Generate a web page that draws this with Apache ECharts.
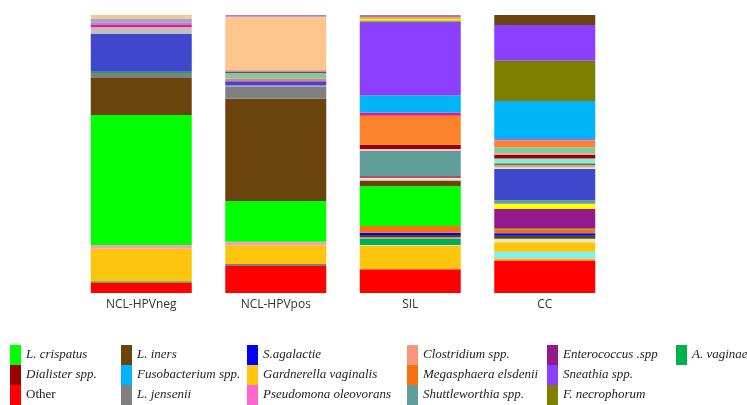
<!DOCTYPE html>
<html>
<head>
<meta charset="utf-8">
<script src="https://cdn.jsdelivr.net/npm/echarts@6/dist/echarts.min.js"></script>
<style>
html,body{margin:0;padding:0;background:#fff;}
#chart{width:747px;height:405px;}
</style>
</head>
<body>
<div id="chart"></div>
<script>
// ---- DATA ----
const categories = ['NCL-HPVneg', 'NCL-HPVpos', 'SIL', 'CC'];

// segments listed bottom -> top (relative abundance, %)
const negTaxa = ['Other','A. vaginae','Gardnerella vaginalis','unk-pink','L. crispatus','L. iners','L. jensenii','A. vaginae','unk-indigo','unk-silver','unk-magenta','unk-orchid','unk-steel','unk-peach'];
const negValues = [3.8,0.4,11.7,1.4,46.7,13.3,1.8,0.5,13.6,2.4,0.8,1.0,1.2,1.4];

const posTaxa = ['Other','L. jensenii','Gardnerella vaginalis','unk-pink','L. crispatus','L. iners','L. jensenii','unk-lavender','unk-indigo','unk-coral','unk-mint','unk-rust','unk-lavender','unk-peach','unk-lavender'];
const posValues = [9.7,0.7,6.8,1.2,14.7,36.8,4.4,0.5,1.4,0.9,2.0,0.6,0.4,19.3,0.6];

const silTaxa = ['Other','Gardnerella vaginalis','unk-cream','A. vaginae','unk-rosybrown','unk-darkolive','S.agalactie','Megasphaera elsdenii','L. crispatus','L. iners','unk-paleolive','unk-white','unk-crimson','Shuttleworthia spp.','unk-rose','Dialister spp.','unk-orange','unk-magenta','Fusobacterium spp.','Sneathia spp.','unk-lime','unk-yellow','Clostridium spp.','unk-mauve'];
const silValues = [8.5,8.4,0.4,2.2,0.6,0.8,0.8,2.4,14.3,2.0,0.5,0.6,0.5,9.2,0.6,1.5,10.5,1.0,6.2,26.6,0.5,0.5,0.6,0.8];

const ccTaxa = ['Other','unk-amber','unk-cyan','Gardnerella vaginalis','unk-cream','unk-darkolive','S.agalactie','Megasphaera elsdenii','unk-olive','Enterococcus .spp','unk-yellow','Shuttleworthia spp.','unk-indigo','unk-cream','unk-teal','Clostridium spp.','unk-olive','unk-cyan','Dialister spp.','Clostridium spp.','unk-mint','unk-orange','unk-violet','Fusobacterium spp.','F. necrophorum','Sneathia spp.','L. iners'];
const ccValues = [11.7,0.7,2.4,3.5,1.2,1.1,0.9,1.4,0.4,6.9,1.9,1.3,11.2,0.6,0.4,0.4,0.7,1.7,1.3,0.6,2.1,2.5,0.5,13.7,14.4,12.9,3.6];

// legend columns
const legendCol1 = ['L. crispatus', 'Dialister spp.', 'Other'];
const legendCol2 = ['L. iners', 'Fusobacterium spp.', 'L. jensenii'];
const legendCol3 = ['S.agalactie', 'Gardnerella vaginalis', 'Pseudomona oleovorans'];
const legendCol4 = ['Clostridium spp.', 'Megasphaera elsdenii', 'Shuttleworthia spp.'];
const legendCol5 = ['Enterococcus .spp', 'Sneathia spp.', 'F. necrophorum'];
const legendCol6 = ['A. vaginae'];

// ---- STYLE ----
const taxonColors = {
  'L. crispatus': '#00ff00',
  'L. iners': '#6b430c',
  'S.agalactie': '#0000ff',
  'Clostridium spp.': '#f8977a',
  'Enterococcus .spp': '#931a8d',
  'A. vaginae': '#00b050',
  'Dialister spp.': '#990000',
  'Fusobacterium spp.': '#00b4f8',
  'Gardnerella vaginalis': '#fdc50b',
  'Megasphaera elsdenii': '#f87010',
  'Sneathia spp.': '#8c40ff',
  'Other': '#ff0000',
  'L. jensenii': '#808080',
  'Pseudomona oleovorans': '#ff66cc',
  'Shuttleworthia spp.': '#5f9e9a',
  'F. necrophorum': '#808000',
  'unk-peach': '#fcc68c',
  'unk-indigo': '#3f48cc',
  'unk-silver': '#c0c0c0',
  'unk-steel': '#8faadc',
  'unk-orchid': '#c080c8',
  'unk-pink': '#f4a0b8',
  'unk-mint': '#80c8a0',
  'unk-lavender': '#a884d0',
  'unk-rust': '#a0401a',
  'unk-coral': '#f27a7a',
  'unk-cream': '#f4e4b4',
  'unk-olive': '#6a7a20',
  'unk-darkolive': '#4a4a10',
  'unk-orange': '#fd822c',
  'unk-magenta': '#ec1a7c',
  'unk-cyan': '#80eef0',
  'unk-yellow': '#ffff00',
  'unk-mauve': '#b47898',
  'unk-rose': '#f2c4c4',
  'unk-crimson': '#a00030',
  'unk-teal': '#70a8a8',
  'unk-lime': '#80b000',
  'unk-amber': '#ffb000',
  'unk-violet': '#c060e8',
  'unk-paleolive': '#c8c890',
  'unk-white': '#f6eee6',
  'unk-rosybrown': '#c09090'
};

const bars = [
  {taxa: negTaxa, values: negValues},
  {taxa: posTaxa, values: posValues},
  {taxa: silTaxa, values: silValues},
  {taxa: ccTaxa, values: ccValues}
];

const BAR_W = 101;
const series = [];
const maxLayers = Math.max(...bars.map(b => b.values.length));
for (let k = 0; k < maxLayers; k++) {
  series.push({
    name: 'seg' + k,
    type: 'bar',
    stack: 'total',
    barWidth: BAR_W,
    silent: true,
    data: bars.map(b => k < b.values.length
      ? {value: b.values[k], itemStyle: {color: taxonColors[b.taxa[k]]}}
      : {value: null})
  });
}
const legendCols = [legendCol1, legendCol2, legendCol3, legendCol4, legendCol5, legendCol6];
legendCols.flat().forEach(name => {
  series.push({
    name: name,
    type: 'bar',
    stack: 'total',
    barWidth: BAR_W,
    itemStyle: {color: taxonColors[name]},
    data: []
  });
});

const legendLefts = [10, 121, 247, 407, 547, 676];
const legends = legendCols.map((col, i) => ({
  orient: 'vertical',
  left: legendLefts[i],
  top: 345,
  padding: 0,
  itemGap: 0,
  itemWidth: 11,
  itemHeight: 20,
  icon: 'rect',
  selectedMode: false,
  data: col,
  formatter: n => n === 'Other' ? '{n|' + n + '}' : '{i|' + n + '}',
  textStyle: {
    color: '#222',
    rich: {
      i: {fontFamily: 'Liberation Serif', fontStyle: 'italic', fontSize: 13, color: '#222'},
      n: {fontFamily: 'Liberation Serif', fontSize: 13, color: '#222'}
    }
  }
}));

const chart = echarts.init(document.getElementById('chart'), null, {renderer: 'canvas'});
chart.setOption({
  animation: false,
  backgroundColor: '#fff',
  grid: {left: 74, right: 135, top: 15, bottom: 112, containLabel: false},
  xAxis: {
    type: 'category',
    data: categories,
    axisLine: {show: false},
    axisTick: {show: false},
    axisLabel: {margin: 6, fontSize: 12, color: '#333', fontFamily: 'Open Sans'}
  },
  yAxis: {type: 'value', min: 0, max: 100, show: false},
  legend: legends,
  series: series
});
</script>
</body>
</html>
